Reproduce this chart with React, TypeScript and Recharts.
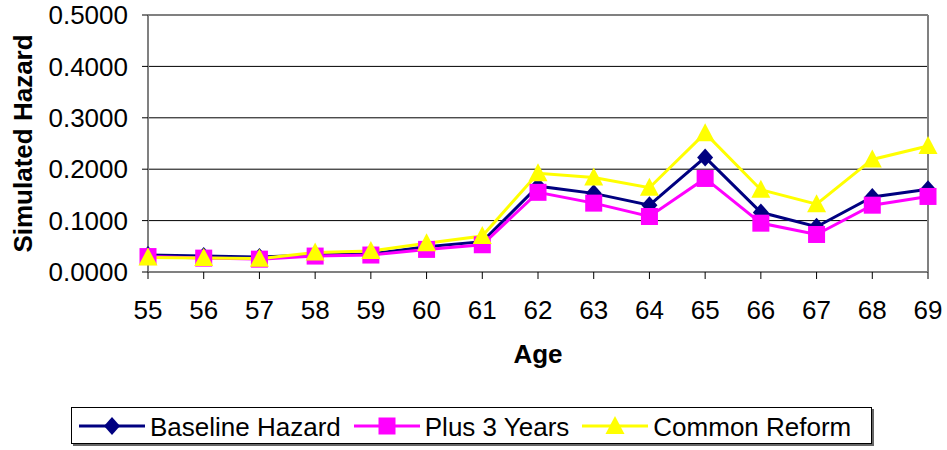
import { LineChart, Line, XAxis, YAxis, CartesianGrid, ReferenceLine } from 'recharts'

// ── Data ───────────────────────────────────────────────
const ages = [55, 56, 57, 58, 59, 60, 61, 62, 63, 64, 65, 66, 67, 68, 69]
const baselineHazard = [0.033, 0.031, 0.029, 0.033, 0.035, 0.049, 0.059, 0.167, 0.153, 0.13, 0.223, 0.116, 0.088, 0.146, 0.161]
const plus3Years = [0.03, 0.027, 0.025, 0.031, 0.033, 0.044, 0.053, 0.155, 0.134, 0.108, 0.182, 0.095, 0.073, 0.13, 0.147]
const commonReform = [0.028, 0.027, 0.026, 0.038, 0.041, 0.056, 0.07, 0.192, 0.184, 0.164, 0.27, 0.16, 0.132, 0.219, 0.245]
const yTicks = [0, 0.1, 0.2, 0.3, 0.4, 0.5]

const NAVY = '#000080'
const MAGENTA = '#FF00FF'
const YELLOW = '#FFFF00'
const FONT = '"Liberation Sans", Arial, sans-serif'
const FONT_SIZE = 26

const data = ages.map((age, i) => ({
  age,
  baseline: baselineHazard[i],
  plus3: plus3Years[i],
  reform: commonReform[i],
}))

interface DotProps {
  cx?: number
  cy?: number
}

const Diamond = ({ cx = 0, cy = 0 }: DotProps) => (
  <path d={`M${cx},${cy - 9}L${cx + 8},${cy}L${cx},${cy + 9}L${cx - 8},${cy}Z`} fill={NAVY} />
)
const Square = ({ cx = 0, cy = 0 }: DotProps) => (
  <rect x={cx - 8.5} y={cy - 8.5} width={17} height={17} fill={MAGENTA} />
)
const Triangle = ({ cx = 0, cy = 0 }: DotProps) => (
  <path d={`M${cx},${cy - 10}L${cx + 9.5},${cy + 8}L${cx - 9.5},${cy + 8}Z`} fill={YELLOW} />
)

const legendItems = [
  { name: 'Baseline Hazard', color: NAVY, Marker: Diamond },
  { name: 'Plus 3 Years', color: MAGENTA, Marker: Square },
  { name: 'Common Reform', color: YELLOW, Marker: Triangle },
]

function ChartLegend() {
  return (
    <div
      style={{
        position: 'absolute',
        left: 71,
        top: 407,
        width: 801,
        height: 37,
        border: '1px solid #000',
        boxShadow: '2px 2px 0 #666',
        background: '#fff',
        display: 'flex',
        alignItems: 'center',
        paddingLeft: 7,
        boxSizing: 'border-box',
        gap: 13,
        fontFamily: FONT,
        fontSize: FONT_SIZE,
        lineHeight: 1,
      }}
    >
      {legendItems.map(({ name, color, Marker }) => (
        <div key={name} style={{ display: 'flex', alignItems: 'center' }}>
          <svg width={66} height={24} style={{ display: 'block' }}>
            <line x1={0} y1={12} x2={66} y2={12} stroke={color} strokeWidth={3} />
            <Marker cx={33} cy={12} />
          </svg>
          <span style={{ marginLeft: 5, marginTop: 2 }}>{name}</span>
        </div>
      ))}
    </div>
  )
}

interface LabelViewBox {
  viewBox?: { x: number; y: number; width: number; height: number }
}

const AgeLabel = ({ viewBox }: LabelViewBox) =>
  viewBox ? (
    <text x={viewBox.x + viewBox.width / 2} y={viewBox.y + 91} textAnchor="middle" fill="#000" fontSize={FONT_SIZE} fontWeight="bold" fontFamily={FONT}>
      Age
    </text>
  ) : null

const HazardLabel = ({ viewBox }: LabelViewBox) => {
  if (!viewBox) return null
  const x = viewBox.x + 32
  const y = viewBox.y + viewBox.height / 2
  return (
    <text x={x} y={y} transform={`rotate(-90, ${x}, ${y})`} textAnchor="middle" fill="#000" fontSize={FONT_SIZE} fontWeight="bold" fontFamily={FONT}>
      Simulated Hazard
    </text>
  )
}

export default function App() {
  return (
    <div style={{ position: 'absolute', left: 0, top: 0, width: 947, height: 450, background: '#fff' }}>
      <LineChart width={947} height={450} data={data} margin={{ top: 15, right: 19, left: 0, bottom: 80 }}>
        <CartesianGrid vertical={false} stroke="#000" strokeWidth={1} />
        <ReferenceLine y={0.5} stroke="#808080" strokeWidth={2} />
        <ReferenceLine x={69} stroke="#808080" strokeWidth={2} />
        <XAxis
          dataKey="age"
          type="number"
          domain={[55, 69]}
          ticks={ages}
          interval={0}
          tick={{ fill: '#000', fontSize: FONT_SIZE, fontFamily: FONT }}
          tickLine={{ stroke: '#000' }}
          tickSize={7}
          tickMargin={22}
          axisLine={{ stroke: '#808080', strokeWidth: 2 }}
          height={98}
          label={<AgeLabel />}
        />
        <YAxis
          domain={[0, 0.5]}
          ticks={yTicks}
          interval={0}
          tickFormatter={(v: number) => v.toFixed(4)}
          tick={{ fill: '#000', fontSize: FONT_SIZE, fontFamily: FONT }}
          tickLine={{ stroke: '#000' }}
          tickSize={6}
          tickMargin={14}
          axisLine={{ stroke: '#808080', strokeWidth: 2 }}
          width={148}
          label={<HazardLabel />}
        />
        <Line dataKey="baseline" stroke={NAVY} strokeWidth={3} dot={<Diamond />} activeDot={false} isAnimationActive={false} />
        <Line dataKey="plus3" stroke={MAGENTA} strokeWidth={3} dot={<Square />} activeDot={false} isAnimationActive={false} />
        <Line dataKey="reform" stroke={YELLOW} strokeWidth={3} dot={<Triangle />} activeDot={false} isAnimationActive={false} />
      </LineChart>
      <ChartLegend />
    </div>
  )
}
